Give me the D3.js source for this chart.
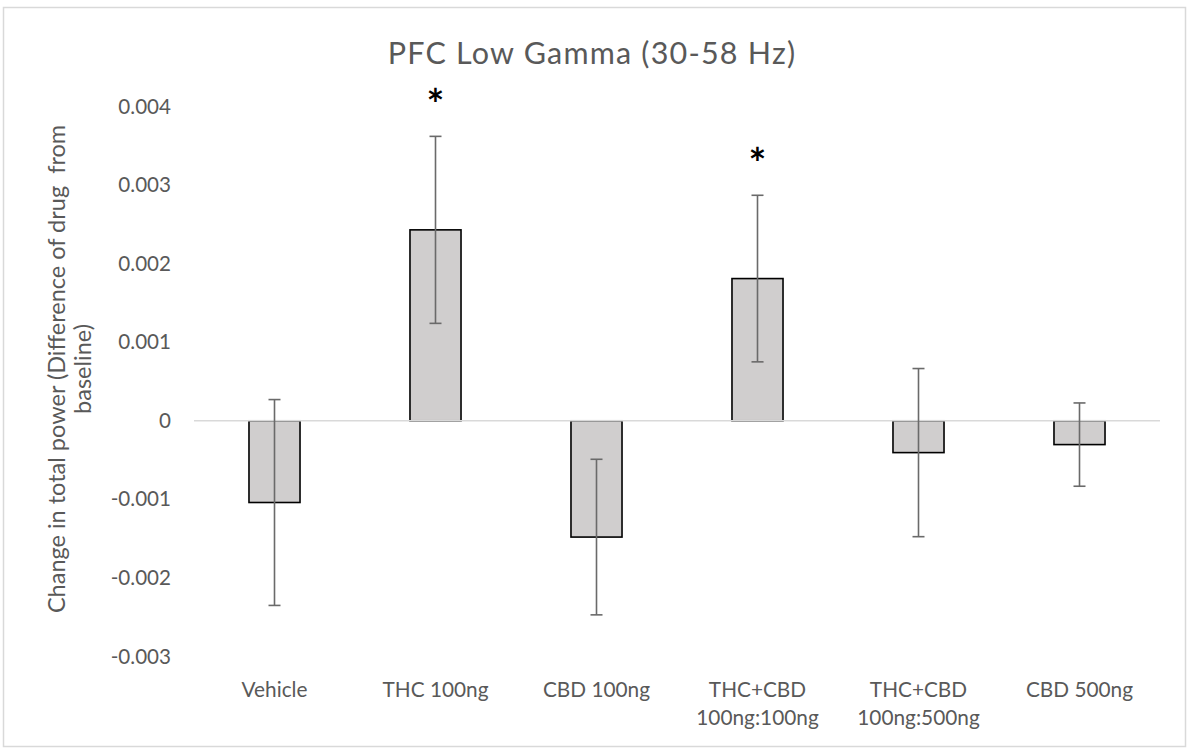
<!DOCTYPE html>
<html>
<head>
<meta charset="utf-8">
<script src="https://cdn.jsdelivr.net/npm/d3@7"></script>
<style>
  html, body { margin: 0; padding: 0; background: #fff; }
  svg { display: block; font-family: Lato, "Open Sans", sans-serif; }
</style>
</head>
<body>
<svg id="chart" width="1192" height="755"></svg>
<script>
// Change in PFC low-gamma power, drug minus baseline
const categories = [["Vehicle"], ["THC 100ng"], ["CBD 100ng"], ["THC+CBD", "100ng:100ng"], ["THC+CBD", "100ng:500ng"], ["CBD 500ng"]];
const means = [-0.00104, 0.00243, -0.00148, 0.00181, -0.000405, -0.000303];
const errors = [0.00131, 0.00119, 0.00099, 0.00106, 0.00107, 0.00053];
const significant = [false, true, false, true, false, false];
const yTicks = [-0.003, -0.002, -0.001, 0, 0.001, 0.002, 0.003, 0.004];
const yTickLabels = ["-0.003", "-0.002", "-0.001", "0", "0.001", "0.002", "0.003", "0.004"];
const title = "PFC Low Gamma (30-58 Hz)";
const yTitleLines = ["Change in total power (Difference of drug  from", "baseline)"];

const svg = d3.select("#chart");
const textColor = "#595959";

// outer chart frame
svg.append("rect")
  .attr("x", 3.5).attr("y", 7.5).attr("width", 1182).attr("height", 739)
  .attr("fill", "#fff").attr("stroke", "#d9d9d9").attr("stroke-width", 1.5);

const plot = { left: 194, right: 1160, top: 106.5, bottom: 656.5 };

const x = d3.scaleBand()
  .domain(d3.range(categories.length))
  .range([plot.left, plot.right])
  .paddingInner(0).paddingOuter(0);

const y = d3.scaleLinear()
  .domain([-0.003, 0.004])
  .range([plot.bottom, plot.top]);

const barW = x.bandwidth() * 0.317;

// title
svg.append("text")
  .attr("x", 592).attr("y", 64)
  .attr("text-anchor", "middle")
  .attr("font-size", 30.5)
  .attr("letter-spacing", 1.2)
  .attr("fill", textColor)
  .text(title);

// y axis tick labels (no axis line, as in the source chart)
const yAxis = d3.axisLeft(y)
  .tickValues(yTicks)
  .tickFormat((d, i) => yTickLabels[i])
  .tickSize(0)
  .tickPadding(0);
const yG = svg.append("g")
  .attr("transform", `translate(171,0)`)
  .call(yAxis);
yG.select(".domain").remove();
yG.selectAll("text")
  .attr("font-family", "Lato, 'Open Sans', sans-serif")
  .attr("font-size", 20.6)
  .attr("fill", textColor);

// y axis title, two rotated lines
const yTitle = svg.append("text")
  .attr("transform", "translate(57,369) rotate(-90)")
  .attr("text-anchor", "middle")
  .attr("font-size", 23.5)
  .attr("fill", textColor);
yTitle.selectAll("tspan")
  .data(yTitleLines)
  .join("tspan")
  .attr("x", 0)
  .attr("dy", (d, i) => i === 0 ? "0.35em" : 26)
  .style("white-space", "pre")
  .text(d => d);

// bars
svg.append("g").selectAll("rect")
  .data(means)
  .join("rect")
  .attr("x", (d, i) => x(i) + (x.bandwidth() - barW) / 2)
  .attr("y", d => y(Math.max(0, d)))
  .attr("width", barW)
  .attr("height", d => Math.abs(y(d) - y(0)))
  .attr("fill", "#d0cece")
  .attr("stroke", "#000")
  .attr("stroke-width", 1.6);

// zero line drawn over the bar edges
svg.append("line")
  .attr("x1", plot.left).attr("x2", plot.right)
  .attr("y1", y(0)).attr("y2", y(0))
  .attr("stroke", "#d9d9d9").attr("stroke-width", 1.6);

// error bars
const eb = svg.append("g").attr("stroke", "#6a6a6a").attr("stroke-width", 1.6);
const cx = i => x(i) + x.bandwidth() / 2;
const capW = 12;
means.forEach((m, i) => {
  const hi = y(m + errors[i]), lo = y(m - errors[i]);
  eb.append("line").attr("x1", cx(i)).attr("x2", cx(i)).attr("y1", hi).attr("y2", lo);
  eb.append("line").attr("x1", cx(i) - capW / 2).attr("x2", cx(i) + capW / 2).attr("y1", hi).attr("y2", hi);
  eb.append("line").attr("x1", cx(i) - capW / 2).attr("x2", cx(i) + capW / 2).attr("y1", lo).attr("y2", lo);
});

// significance markers above the upper error cap
svg.append("g").selectAll("text")
  .data(means.map((m, i) => ({ i, top: m + errors[i], sig: significant[i] })).filter(d => d.sig))
  .join("text")
  .attr("x", d => cx(d.i))
  .attr("y", d => y(d.top) - 16)
  .attr("text-anchor", "middle")
  .attr("font-size", 42)
  .attr("font-weight", "bold")
  .attr("fill", "#000")
  .text("*");

// category labels
const catG = svg.append("g");
categories.forEach((lines, i) => {
  const t = catG.append("text")
    .attr("x", cx(i))
    .attr("text-anchor", "middle")
    .attr("font-size", 20.8)
    .attr("fill", textColor);
  lines.forEach((line, j) => {
    t.append("tspan").attr("x", cx(i)).attr("y", 697 + j * 28).text(line);
  });
});
</script>
</body>
</html>
